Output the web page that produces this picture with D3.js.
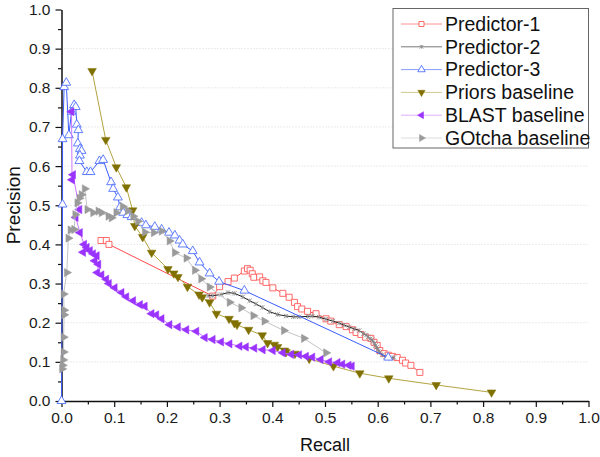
<!DOCTYPE html>
<html>
<head>
<meta charset="utf-8">
<script src="https://cdn.jsdelivr.net/npm/d3@7"></script>
<style>
  body { margin: 0; background: #fff; }
  text { font-family: Arial, "Liberation Sans", sans-serif; }
</style>
</head>
<body>
<div id="chart"></div>
<script>
// series names, in legend order
const seriesNames = ['Predictor-1', 'Predictor-2', 'Predictor-3', 'Priors baseline', 'BLAST baseline', 'GOtcha baseline'];

// [recall, precision]
const predictor1 = [[0.075,0.410],[0.085,0.410],[0.090,0.400],[0.287,0.268],[0.300,0.292],[0.316,0.305],[0.328,0.314],[0.347,0.332],[0.353,0.338],[0.358,0.334],[0.362,0.325],[0.365,0.316],[0.376,0.317],[0.382,0.307],[0.388,0.303],[0.401,0.289],[0.420,0.275],[0.432,0.265],[0.442,0.252],[0.448,0.241],[0.456,0.235],[0.467,0.229],[0.483,0.223],[0.502,0.210],[0.511,0.204],[0.527,0.195],[0.540,0.190],[0.552,0.182],[0.559,0.175],[0.568,0.170],[0.577,0.163],[0.587,0.160],[0.593,0.150],[0.599,0.142],[0.604,0.129],[0.612,0.121],[0.620,0.117],[0.628,0.114],[0.637,0.111],[0.647,0.104],[0.653,0.097],[0.663,0.091],[0.680,0.073]];

const predictor2 = [[0.278,0.269],[0.287,0.269],[0.303,0.272],[0.316,0.277],[0.328,0.275],[0.344,0.266],[0.357,0.256],[0.369,0.248],[0.381,0.239],[0.395,0.228],[0.410,0.221],[0.426,0.217],[0.440,0.215],[0.451,0.215],[0.467,0.216],[0.476,0.217],[0.489,0.214],[0.502,0.209],[0.515,0.204],[0.527,0.199],[0.536,0.194],[0.546,0.189],[0.556,0.184],[0.565,0.180],[0.573,0.172],[0.578,0.168],[0.582,0.164],[0.586,0.159],[0.589,0.156],[0.591,0.152],[0.594,0.147],[0.596,0.142],[0.598,0.137],[0.600,0.132],[0.602,0.128],[0.604,0.124],[0.609,0.118],[0.615,0.113],[0.625,0.109],[0.631,0.111]];

const predictor3 = [[0.000,0.000],[0.002,0.502],[0.002,0.669],[0.005,0.802],[0.009,0.813],[0.014,0.679],[0.019,0.739],[0.024,0.756],[0.027,0.751],[0.029,0.706],[0.032,0.692],[0.031,0.658],[0.035,0.644],[0.038,0.639],[0.035,0.627],[0.034,0.613],[0.048,0.585],[0.055,0.585],[0.072,0.613],[0.079,0.616],[0.094,0.559],[0.098,0.542],[0.107,0.520],[0.111,0.495],[0.117,0.481],[0.125,0.475],[0.133,0.470],[0.152,0.455],[0.160,0.449],[0.177,0.445],[0.190,0.438],[0.204,0.430],[0.215,0.423],[0.224,0.410],[0.230,0.400],[0.249,0.383],[0.262,0.354],[0.281,0.326],[0.299,0.305],[0.347,0.282],[0.620,0.111]];

const priors = [[0.058,0.843],[0.084,0.667],[0.104,0.597],[0.123,0.546],[0.135,0.487],[0.139,0.447],[0.154,0.419],[0.171,0.379],[0.202,0.337],[0.213,0.326],[0.221,0.317],[0.239,0.292],[0.261,0.272],[0.267,0.265],[0.281,0.252],[0.294,0.223],[0.318,0.210],[0.328,0.199],[0.333,0.195],[0.355,0.182],[0.381,0.168],[0.391,0.148],[0.404,0.144],[0.410,0.138],[0.423,0.129],[0.426,0.125],[0.443,0.121],[0.470,0.108],[0.516,0.089],[0.566,0.071],[0.621,0.058],[0.711,0.041],[0.816,0.022]];

const blast = [[0.019,0.739],[0.020,0.565],[0.022,0.578],[0.034,0.489],[0.027,0.469],[0.035,0.430],[0.043,0.400],[0.048,0.392],[0.041,0.380],[0.054,0.384],[0.060,0.376],[0.067,0.371],[0.063,0.358],[0.070,0.349],[0.068,0.328],[0.076,0.322],[0.085,0.311],[0.090,0.300],[0.101,0.289],[0.114,0.277],[0.123,0.266],[0.136,0.256],[0.149,0.246],[0.158,0.242],[0.171,0.223],[0.180,0.220],[0.190,0.210],[0.205,0.195],[0.221,0.189],[0.237,0.182],[0.256,0.178],[0.272,0.162],[0.287,0.157],[0.303,0.151],[0.319,0.146],[0.338,0.140],[0.350,0.138],[0.366,0.135],[0.382,0.131],[0.401,0.129],[0.420,0.123],[0.436,0.119],[0.451,0.118],[0.464,0.114],[0.476,0.112],[0.492,0.106],[0.508,0.100],[0.524,0.098],[0.533,0.094],[0.545,0.091],[0.551,0.089]];

const gotcha = [[0.001,0.082],[0.002,0.091],[0.003,0.105],[0.004,0.125],[0.004,0.163],[0.005,0.220],[0.005,0.232],[0.004,0.273],[0.010,0.328],[0.013,0.416],[0.017,0.437],[0.024,0.438],[0.026,0.476],[0.030,0.506],[0.034,0.518],[0.038,0.527],[0.044,0.542],[0.049,0.489],[0.060,0.481],[0.070,0.485],[0.076,0.481],[0.089,0.472],[0.095,0.468],[0.104,0.481],[0.116,0.497],[0.126,0.486],[0.136,0.472],[0.145,0.459],[0.158,0.431],[0.175,0.430],[0.190,0.434],[0.205,0.409],[0.215,0.379],[0.237,0.365],[0.253,0.334],[0.265,0.312],[0.281,0.291],[0.319,0.252],[0.341,0.238],[0.364,0.218],[0.385,0.204],[0.422,0.180],[0.460,0.160],[0.502,0.123]];

const tickLabels = ['0.0','0.1','0.2','0.3','0.4','0.5','0.6','0.7','0.8','0.9','1.0'];
const majorTicks = tickLabels.map(Number);
const minorTicks = [0.05,0.15,0.25,0.35,0.45,0.55,0.65,0.75,0.85,0.95];

// marker shapes
const crossShape = {
    draw(ctx, size) {
        const r = Math.sqrt(size) / 2;
        ctx.moveTo(-r, -r); ctx.lineTo(r, r);
        ctx.moveTo(-r, r); ctx.lineTo(r, -r);
        ctx.moveTo(0, -r); ctx.lineTo(0, r);
    }
};

const styles = [
    { data: predictor1, line: '#ff4a4a', stroke: '#ff5a5a', fill: '#fff', shape: d3.symbolSquare, size: 36, rot: 0, sw: 0.9 },
    { data: predictor2, line: '#202020', stroke: '#8a8a8a', fill: 'none', shape: crossShape, size: 20, rot: 0, sw: 0.8 },
    { data: predictor3, line: '#3a5cff', stroke: '#5070ff', fill: '#fff', shape: d3.symbolTriangle, size: 34, rot: 0, sw: 0.9 },
    { data: priors, line: '#b3a440', stroke: '#807000', fill: '#807000', shape: d3.symbolTriangle, size: 32, rot: 180, sw: 0.5 },
    { data: blast, line: '#cc77ff', stroke: '#9a33ff', fill: '#9a33ff', shape: d3.symbolTriangle, size: 30, rot: -90, sw: 0.5 },
    { data: gotcha, line: '#c4c4c4', stroke: '#9a9a9a', fill: '#9a9a9a', shape: d3.symbolTriangle, size: 30, rot: 90, sw: 0.5 }
];

const width = 600, height = 457;
const margin = { top: 9.5, right: 11.5, bottom: 56, left: 61.5 };

const svg = d3.select('#chart')
    .append('svg')
    .attr('width', width)
    .attr('height', height);

const x = d3.scaleLinear().domain([0, 1]).range([margin.left, width - margin.right]);
const y = d3.scaleLinear().domain([0, 1]).range([height - margin.bottom, margin.top]);

// dotted horizontal grid
svg.append('g')
    .selectAll('line')
    .data(majorTicks.slice(1, -1))
    .join('line')
    .attr('x1', x(0))
    .attr('x2', x(1))
    .attr('y1', d => y(d))
    .attr('y2', d => y(d))
    .attr('stroke', '#d8d8d8')
    .attr('stroke-width', 1)
    .attr('stroke-dasharray', '1,2');

// axes
svg.append('g')
    .attr('transform', `translate(0,${y(0)})`)
    .call(d3.axisBottom(x).tickValues(majorTicks).tickSize(6).tickSizeOuter(0).tickPadding(5)
        .tickFormat((d, i) => tickLabels[i]));
svg.append('g')
    .attr('transform', `translate(0,${y(0)})`)
    .call(d3.axisBottom(x).tickValues(minorTicks).tickSize(3.5).tickFormat(''))
    .call(g => g.select('.domain').remove());

svg.append('g')
    .attr('transform', `translate(${x(0)},0)`)
    .call(d3.axisLeft(y).tickValues(majorTicks).tickSize(6).tickSizeOuter(0).tickPadding(5)
        .tickFormat((d, i) => tickLabels[i]));
svg.append('g')
    .attr('transform', `translate(${x(0)},0)`)
    .call(d3.axisLeft(y).tickValues(minorTicks).tickSize(3.5).tickFormat(''))
    .call(g => g.select('.domain').remove());

svg.selectAll('.domain').attr('stroke', '#111').attr('stroke-width', 1.5);
svg.selectAll('.tick line').attr('stroke', '#111').attr('stroke-width', 1.2);
svg.selectAll('.tick text').attr('font-size', 15.5).attr('fill', '#1a1a1a')
    .style('font-family', 'Arial, "Liberation Sans", sans-serif');

// axis titles
svg.append('text')
    .attr('x', x(0.5))
    .attr('y', 451)
    .attr('text-anchor', 'middle')
    .attr('font-size', 18)
    .attr('fill', '#111')
    .text('Recall');

svg.append('text')
    .attr('transform', `translate(20,${y(0.5)}) rotate(-90)`)
    .attr('text-anchor', 'middle')
    .attr('font-size', 19)
    .attr('fill', '#111')
    .text('Precision');

// series
const line = d3.line().x(d => x(d[0])).y(d => y(d[1]));

styles.forEach(s => {
    const g = svg.append('g');
    g.append('path')
        .datum(s.data)
        .attr('d', line)
        .attr('fill', 'none')
        .attr('stroke', s.line)
        .attr('stroke-width', 1);
    g.selectAll('path.marker')
        .data(s.data)
        .join('path')
        .attr('class', 'marker')
        .attr('d', d3.symbol().type(s.shape).size(s.size))
        .attr('transform', d => `translate(${x(d[0])},${y(d[1])}) rotate(${s.rot})`)
        .attr('fill', s.fill)
        .attr('stroke', s.stroke)
        .attr('stroke-width', s.sw);
});

// legend
const legend = svg.append('g').attr('transform', 'translate(393,8.5)');
legend.append('rect')
    .attr('width', 195.5)
    .attr('height', 139.5)
    .attr('fill', '#fff')
    .attr('stroke', '#666')
    .attr('stroke-width', 1);

const item = legend.selectAll('g.item')
    .data(seriesNames)
    .join('g')
    .attr('class', 'item')
    .attr('transform', (d, i) => `translate(0,${15.5 + i * 22.8})`);

item.append('line')
    .attr('x1', 8)
    .attr('x2', 49)
    .attr('stroke', (d, i) => styles[i].line)
    .attr('stroke-opacity', 0.6)
    .attr('stroke-width', 1);

item.append('path')
    .attr('d', (d, i) => d3.symbol().type(styles[i].shape).size(styles[i].size * 0.7)())
    .attr('transform', (d, i) => `translate(28.5,0) rotate(${styles[i].rot})`)
    .attr('fill', (d, i) => styles[i].fill)
    .attr('stroke', (d, i) => styles[i].stroke)
    .attr('stroke-width', (d, i) => styles[i].sw);

item.append('text')
    .attr('x', 52)
    .attr('dy', '0.35em')
    .attr('font-size', 19.5)
    .attr('fill', '#111')
    .text(d => d);
</script>
</body>
</html>
